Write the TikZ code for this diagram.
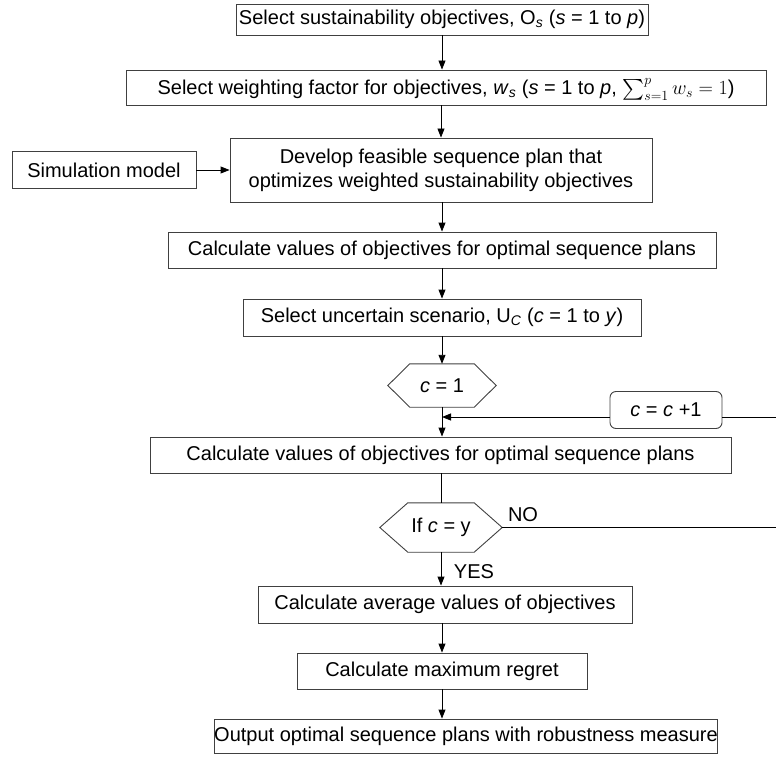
\RequirePackage{fix-cm}
\documentclass[tikz,border=0pt]{standalone}
\usepackage{exscale}
\usepackage{fontspec}
\setmainfont{Liberation Sans}
\usetikzlibrary{arrows.meta,calc}
\newcommand{\hexa}[2]{\draw[hexline] (#1.west) -- ($(#1.north west)+(#2,0)$) -- ($(#1.north east)+(-#2,0)$) -- (#1.east) -- ($(#1.south east)+(-#2,0)$) -- ($(#1.south west)+(#2,0)$) -- cycle;}
\begin{document}
\begin{tikzpicture}[x=1pt,y=-1pt,
  txt/.style={font=\fontsize{20}{24}\selectfont},
  box/.style={txt, draw=black!75, line width=0.9pt, rectangle, inner sep=0pt, align=center, fill=white},
  rbox/.style={box, rounded corners=6pt},
  hexline/.style={draw=black!75, line width=0.9pt},
  hexnode/.style={txt, inner sep=0pt},
  arr/.style={-{Triangle[length=9pt,width=7pt]}, line width=0.9pt},
  plain/.style={line width=0.9pt},
  lbl/.style={txt, inner sep=0pt}
]
\useasboundingbox (0,0) rectangle (776,757);

\node[box, minimum width=412pt, minimum height=31pt] (b1) at (442,19.5)
  {Select sustainability objectives, O\textsubscript{\textit{s}} (\textit{s} = 1 to \textit{p})};
\node[box, minimum width=640pt, minimum height=35pt, text depth=0pt, text height=14pt] (b2) at (446,87.5)
  {Select weighting factor for objectives, \textit{w}\textsubscript{\textit{s}} (\textit{s} = 1 to \textit{p}, $\sum\nolimits_{s=1}^{p} w_s = 1$)};
\node[box, minimum width=422pt, minimum height=64pt] (b3) at (441,170)
  {Develop feasible sequence plan that\\optimizes weighted sustainability objectives};
\node[box, minimum width=184pt, minimum height=37pt] (sim) at (104,170)
  {Simulation model};
\node[box, minimum width=548pt, minimum height=36pt] (b4) at (442,250)
  {Calculate values of objectives for optimal sequence plans};
\node[box, minimum width=398pt, minimum height=37pt] (b5) at (442,317.5)
  {Select uncertain scenario, U\textsubscript{\textit{C}} (\textit{c} = 1 to \textit{y})};
\node[hexnode, minimum width=108pt, minimum height=43pt] (h1) at (442,385.5) {\textit{c} = 1};
\hexa{h1}{22}
\node[rbox, minimum width=112pt, minimum height=37pt] (cc) at (666,410) {\textit{c} = \textit{c} +1};
\node[box, minimum width=581pt, minimum height=36pt] (b6) at (440.5,455)
  {Calculate values of objectives for optimal sequence plans};
\node[hexnode, minimum width=122pt, minimum height=49pt] (h2) at (441,527.5) {If \textit{c} = y};
\hexa{h2}{28}
\node[lbl] (no) at (523,514.5) {NO};
\node[lbl] (yes) at (474,571.5) {YES};
\node[box, minimum width=374pt, minimum height=37pt] (b7) at (445,604.5)
  {Calculate average values of objectives};
\node[box, minimum width=290pt, minimum height=36pt] (b8) at (442,671)
  {Calculate maximum regret};
\node[box, minimum width=494pt, minimum height=34pt] (b9) at (466,736)
  {Output optimal sequence plans with robustness measure};

\coordinate (r1) at (776,417);
\coordinate (r2) at (776,527.5);

\draw[arr] (b1.south) -- (b1.south |- b2.north);
\draw[arr] (b3.north |- b2.south) -- (b3.north);
\draw[arr] (sim.east) -- (b3.west |- sim.east);
\draw[arr] (b4.north |- b3.south) -- (b4.north);
\draw[arr] (b4.south) -- (b4.south |- b5.north);
\draw[arr] (b5.south) -- (h1.north);
\draw[arr] (h1.south) -- (h1.south |- b6.north);
\draw[plain] (r1) -- (r1 -| cc.east);
\draw[arr] (cc.west |- r1) -- (h1.south |- r1);
\draw[plain] (h2.north |- b6.south) -- (h2.north);
\draw[plain] (h2.east) -- (r2);
\draw[arr] (h2.south) -- (h2.south |- b7.north);
\draw[arr] (b8.north |- b7.south) -- (b8.north);
\draw[arr] (b8.south) -- (b8.south |- b9.north);
\end{tikzpicture}
\end{document}
